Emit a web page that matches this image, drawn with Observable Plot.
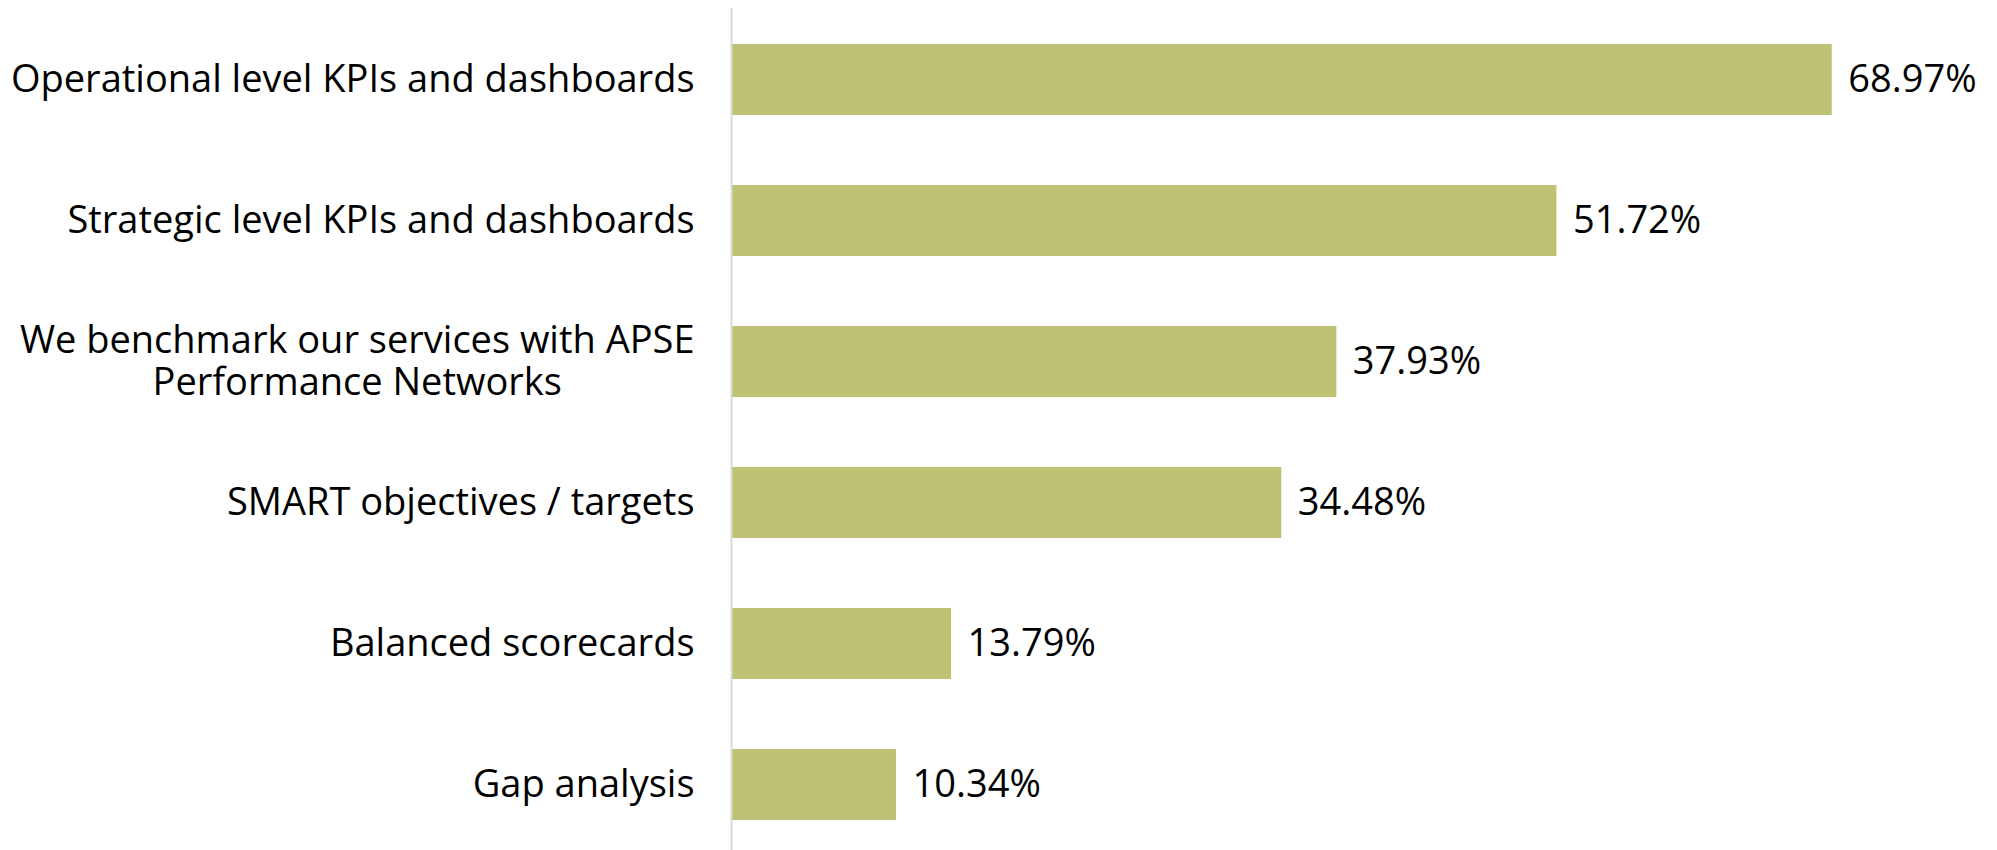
<!DOCTYPE html>
<html><head><meta charset="utf-8">
<script src="https://cdn.jsdelivr.net/npm/d3@7"></script>
<script src="https://cdn.jsdelivr.net/npm/@observablehq/plot@0.6"></script>
<style>body{margin:0;background:#fff}</style>
</head><body><div id="chart"></div>
<script>
const categories = [
  "Operational level KPIs and dashboards",
  "Strategic level KPIs and dashboards",
  "We benchmark our services with APSE\nPerformance Networks",
  "SMART objectives / targets",
  "Balanced scorecards",
  "Gap analysis"
];
const values = [68.97, 51.72, 37.93, 34.48, 13.79, 10.34];
const data = categories.map((c, i) => ({category: c, value: values[i]}));

const chart = Plot.plot({
  width: 1997, height: 850,
  marginLeft: 731, marginRight: 69, marginTop: 8, marginBottom: -6,
  style: {fontFamily: "Open Sans", fontSize: "38px", color: "#000", background: "#fff"},
  x: {domain: [0, 75], axis: null},
  y: {domain: categories, paddingInner: 0.5, paddingOuter: 0.25, axis: null},
  marks: [
    Plot.barX(data, {x: "value", y: "category", fill: "#bfc274"}),
    Plot.ruleX([0], {stroke: "#d9d9d9", strokeWidth: 2}),
    Plot.text(data, {x: "value", y: "category", text: d => d.value.toFixed(2) + "%",
      textAnchor: "start", dx: 16, fontSize: 38, fill: "#000"}),
    Plot.axisY({tickSize: 0, tickPadding: 37, fontSize: 38, label: null, fill: "#000"})
  ]
});
document.getElementById("chart").appendChild(chart);

// center the lines of wrapped labels within their own block, with a bit more leading
const lh = 1.1;
d3.select(chart).selectAll("text").each(function () {
  const spans = this.querySelectorAll("tspan");
  if (spans.length > 1) {
    const n = spans.length;
    const b = this.getBBox();
    const cx = b.x + b.width / 2;
    this.setAttribute("text-anchor", "middle");
    spans.forEach((s, i) => {
      s.setAttribute("x", cx);
      if (i === 0) {
        s.removeAttribute("dy");
        s.setAttribute("y", `${0.32 - (n - 1) / 2 * lh}em`);
      } else {
        s.removeAttribute("y");
        s.setAttribute("dy", `${lh}em`);
      }
    });
  }
});
</script>
</body></html>
